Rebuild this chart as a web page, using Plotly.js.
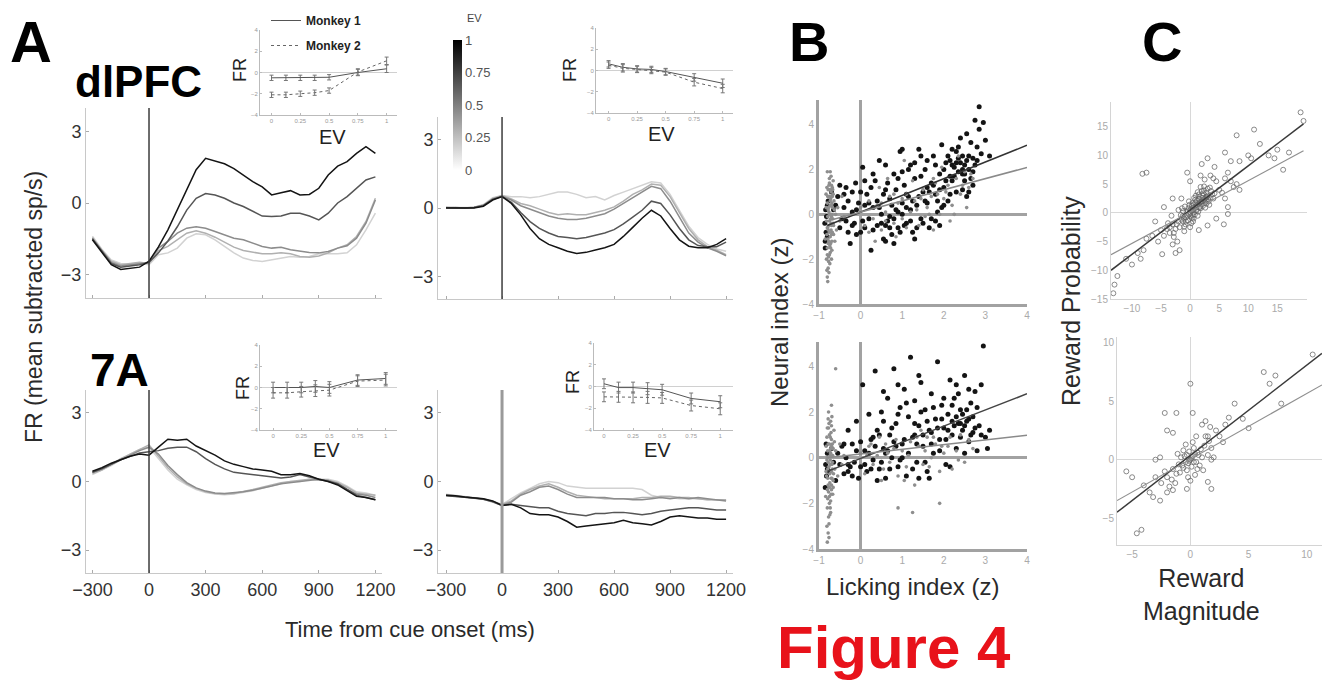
<!DOCTYPE html>
<html><head><meta charset="utf-8">
<script src="https://cdn.plot.ly/plotly-3.0.1.min.js"></script>
<style>html,body{margin:0;padding:0;background:#fff;}#g{width:1322px;height:684px;}</style>
</head><body><div id="g"></div>
<script>
// ---------- DATA ----------
const times = [-300,-250,-200,-150,-100,-50,0,50,100,150,200,250,300,350,400,450,500,550,600,650,700,750,800,850,900,950,1000,1050,1100,1150,1200];
const evLevels = [0,0.25,0.5,0.75,1];
const timeTicks = [-300,0,300,600,900,1200];

// dlPFC, left (monkey 1) — one series per EV level
const tlEv0   = [-1.4,-1.95,-2.4,-2.55,-2.6,-2.55,-2.6,-2.18,-2.1,-1.9,-1.48,-1.3,-1.34,-1.55,-1.83,-2.1,-2.32,-2.42,-2.46,-2.4,-2.34,-2.25,-2.28,-2.25,-2.14,-2.14,-2.14,-2.1,-1.76,-1.13,-0.43];
const tlEv025 = [-1.45,-2.0,-2.45,-2.6,-2.55,-2.5,-2.55,-2.0,-1.83,-1.55,-1.27,-1.17,-1.27,-1.44,-1.66,-1.86,-2.0,-2.08,-2.14,-2.14,-2.1,-2.14,-2.25,-2.28,-2.23,-2.1,-1.9,-1.76,-1.41,-0.78,0.2];
const tlEv05  = [-1.5,-2.0,-2.5,-2.65,-2.6,-2.55,-2.5,-1.9,-1.62,-1.27,-1.06,-1.0,-1.06,-1.2,-1.35,-1.48,-1.55,-1.7,-1.83,-1.9,-1.86,-1.97,-2.04,-2.08,-2.1,-2.04,-1.9,-1.8,-1.48,-0.85,0.13];
const tlEv075 = [-1.5,-2.05,-2.55,-2.7,-2.65,-2.6,-2.5,-2.1,-1.6,-1.0,-0.3,0.2,0.4,0.34,0.2,0.0,-0.15,-0.36,-0.55,-0.57,-0.55,-0.43,-0.43,-0.55,-0.71,-0.43,0.0,0.27,0.62,0.97,1.1];
const tlEv1   = [-1.55,-2.1,-2.6,-2.8,-2.75,-2.7,-2.45,-1.85,-1.13,-0.3,0.55,1.4,1.88,1.75,1.65,1.45,1.18,0.9,0.68,0.34,0.43,0.52,0.34,0.36,0.62,1.18,1.55,1.74,2.09,2.37,2.09];

// dlPFC, right (monkey 2)
const trEv0   = [0.02,0.02,0.0,0.03,0.15,0.45,0.55,0.5,0.5,0.45,0.5,0.6,0.7,0.7,0.6,0.45,0.5,0.35,0.55,0.7,0.85,1.0,1.15,1.1,0.6,-0.1,-0.8,-1.3,-1.6,-1.8,-1.9];
const trEv025 = [0.0,0.0,0.02,0.02,0.12,0.42,0.55,0.4,0.2,0.1,-0.05,-0.2,-0.3,-0.25,-0.3,-0.3,-0.2,-0.1,0.05,0.3,0.6,0.8,1.05,1.0,0.5,-0.2,-0.9,-1.4,-1.7,-1.85,-2.05];
const trEv05  = [0.0,0.02,0.0,0.03,0.12,0.4,0.52,0.35,0.1,-0.05,-0.2,-0.35,-0.45,-0.5,-0.5,-0.45,-0.35,-0.25,-0.05,0.2,0.45,0.7,0.95,0.85,0.3,-0.4,-1.1,-1.5,-1.75,-1.9,-2.1];
const trEv075 = [0.02,0.0,0.0,0.02,0.1,0.38,0.5,0.25,-0.2,-0.6,-0.9,-1.1,-1.25,-1.3,-1.35,-1.3,-1.2,-1.1,-0.95,-0.7,-0.4,-0.1,0.3,0.2,-0.3,-0.9,-1.4,-1.65,-1.7,-1.7,-1.5];
const trEv1   = [0.0,0.0,-0.03,0.0,0.08,0.35,0.5,0.2,-0.3,-0.9,-1.35,-1.6,-1.75,-1.9,-2.0,-1.95,-1.85,-1.75,-1.6,-1.25,-0.85,-0.45,-0.1,-0.35,-0.9,-1.4,-1.68,-1.75,-1.75,-1.6,-1.35];

// 7A, left (monkey 1)
const blEv0   = [0.3,0.5,0.7,0.95,1.2,1.4,1.5,1.0,0.5,0.1,-0.15,-0.35,-0.48,-0.55,-0.58,-0.55,-0.48,-0.4,-0.3,-0.2,-0.1,0.0,0.0,0.1,0.1,0.1,0.0,-0.2,-0.45,-0.5,-0.6];
const blEv025 = [0.35,0.5,0.75,1.0,1.2,1.4,1.6,1.1,0.6,0.2,-0.1,-0.3,-0.45,-0.52,-0.55,-0.52,-0.45,-0.35,-0.25,-0.15,-0.05,0.0,0.05,0.1,0.05,0.05,-0.05,-0.25,-0.5,-0.55,-0.6];
const blEv05  = [0.4,0.55,0.75,0.95,1.15,1.35,1.5,1.2,0.7,0.3,-0.05,-0.28,-0.42,-0.5,-0.52,-0.5,-0.45,-0.38,-0.3,-0.2,-0.1,-0.05,0.0,0.05,0.1,0.05,-0.1,-0.35,-0.55,-0.6,-0.7];
const blEv075 = [0.4,0.55,0.75,0.95,1.1,1.25,1.3,1.35,1.45,1.5,1.5,1.3,1.0,0.75,0.55,0.4,0.35,0.3,0.25,0.2,0.15,0.2,0.3,0.2,0.1,0.0,-0.1,-0.35,-0.6,-0.7,-0.8];
const blEv1   = [0.45,0.6,0.8,0.95,1.1,1.2,1.15,1.5,1.85,1.8,1.85,1.55,1.35,1.15,0.9,0.75,0.65,0.55,0.5,0.45,0.3,0.3,0.35,0.25,0.1,0.0,-0.15,-0.4,-0.65,-0.7,-0.8];

// 7A, right (monkey 2)
const brEv0   = [-0.56,-0.6,-0.65,-0.7,-0.75,-0.86,-1.0,-0.75,-0.5,-0.3,-0.1,0.0,-0.05,-0.2,-0.25,-0.3,-0.3,-0.3,-0.3,-0.3,-0.3,-0.35,-0.6,-0.7,-0.7,-0.75,-0.75,-0.75,-0.8,-0.8,-0.8];
const brEv025 = [-0.58,-0.62,-0.66,-0.7,-0.76,-0.88,-1.0,-0.85,-0.55,-0.35,-0.2,-0.1,-0.25,-0.45,-0.6,-0.65,-0.7,-0.75,-0.75,-0.75,-0.75,-0.7,-0.7,-0.65,-0.65,-0.7,-0.7,-0.75,-0.8,-0.8,-0.8];
const brEv05  = [-0.6,-0.64,-0.68,-0.72,-0.78,-0.9,-1.05,-0.9,-0.6,-0.45,-0.25,-0.2,-0.35,-0.55,-0.7,-0.7,-0.7,-0.7,-0.75,-0.75,-0.8,-0.8,-0.75,-0.7,-0.75,-0.7,-0.75,-0.7,-0.75,-0.8,-0.85];
const brEv075 = [-0.62,-0.65,-0.7,-0.72,-0.78,-0.88,-1.05,-1.0,-1.05,-1.1,-1.15,-1.15,-1.3,-1.4,-1.45,-1.5,-1.4,-1.4,-1.35,-1.35,-1.4,-1.45,-1.4,-1.3,-1.25,-1.2,-1.15,-1.15,-1.2,-1.25,-1.25];
const brEv1   = [-0.6,-0.62,-0.68,-0.7,-0.75,-0.85,-1.05,-1.0,-1.15,-1.4,-1.45,-1.45,-1.55,-1.75,-2.0,-1.95,-1.9,-1.85,-1.8,-1.7,-1.8,-1.85,-1.9,-1.75,-1.55,-1.5,-1.55,-1.6,-1.6,-1.65,-1.65];

// Insets: FR vs EV, two monkeys
const evPoints = [0,0.125,0.25,0.375,0.5,0.75,1];
const evTicks = [0,0.25,0.5,0.75,1];
const evTickText = ['0','0.25','0.5','0.75','1'];
const frTicks = [-4,-2,0,2,4];
const tlM1 = [-0.5,-0.5,-0.5,-0.5,-0.45,0.0,0.35];
const tlM2 = [-2.1,-2.1,-2.0,-1.9,-1.7,0.05,1.1];
const tlErr = [0.25,0.25,0.25,0.25,0.25,0.3,0.35];
const trM1 = [0.63,0.3,0.15,0.1,-0.1,-0.65,-1.2];
const trM2 = [0.5,0.2,0.1,0.0,-0.15,-1.1,-1.7];
const trErr = [0.3,0.35,0.3,0.3,0.3,0.35,0.4];
const blM1 = [0.0,0.0,0.0,0.1,0.0,0.7,0.85];
const blM2 = [-0.5,-0.5,-0.4,-0.3,-0.25,0.6,0.7];
const blErr = [0.5,0.5,0.5,0.55,0.55,0.5,0.55];
const brM1 = [0.25,-0.1,-0.1,-0.2,-0.3,-1.1,-1.4];
const brM2 = [-0.95,-0.95,-1.0,-1.0,-1.05,-1.75,-2.05];
const brErr = [0.45,0.5,0.5,0.55,0.5,0.5,0.55];

// B: neural index vs licking index  [licking, neural]
const bTopBlack = [[-0.85,-1.5],[-0.85,-1.2],[-0.83,-0.8],[-0.86,-0.4],[-0.84,0.2],[-0.8,-1.0],[-0.78,0.6],[-0.7,1.0],[-0.6,0.4],[-0.55,0.8],[-0.5,1.3],[-0.45,-0.2],[-0.4,0.3],[-0.35,1.2],[-0.3,-0.8],[-0.3,0.6],[-0.25,-1.3],[-0.2,0.1],[-0.15,-0.4],[-0.12,1.4],[-0.1,-0.9],[-0.05,0.5],[0.05,2.1],[0.1,-0.6],[0.15,0.9],[0.2,-0.2],[0.25,-1.6],[0.3,0.3],[0.35,1.5],[0.4,-0.5],[0.45,2.4],[0.5,0.0],[0.55,-1.1],[0.6,1.1],[0.65,-0.3],[0.7,0.7],[0.75,-0.9],[0.8,1.8],[0.85,0.2],[0.9,-0.6],[0.95,2.8],[1.0,0.0],[1.05,1.3],[1.1,-0.4],[1.15,0.8],[1.2,2.2],[1.25,-0.8],[1.3,1.6],[1.35,0.4],[1.4,2.9],[1.45,-0.2],[1.5,1.0],[1.55,2.0],[1.6,0.5],[1.65,-0.6],[1.7,1.4],[1.75,2.6],[1.8,0.9],[1.85,0.1],[1.9,1.8],[1.95,3.1],[2.0,1.2],[2.05,2.3],[2.1,0.6],[2.15,1.7],[2.2,2.9],[2.25,2.1],[2.3,1.0],[2.35,2.5],[2.4,3.4],[2.45,1.8],[2.5,2.2],[2.55,0.8],[2.6,2.6],[2.65,3.2],[2.7,1.9],[2.75,4.2],[2.8,2.4],[2.85,3.8],[2.9,2.7],[2.95,4.1],[3.0,3.3],[2.85,4.8],[3.1,2.6],[0.0,-0.8],[0.6,-1.2],[1.2,0.2],[0.3,1.8],[1.8,-0.3],[2.2,1.5],[2.45,2.0],[2.3,2.3],[1.0,0.5],[1.3,-1.1],[0.9,1.6],[0.4,0.6],[0.7,-0.1],[1.1,0.9],[1.6,1.2],[2.0,0.4],[2.5,1.5],[-0.2,-0.5],[0.1,0.4],
  [-0.82,-0.1],[-0.8,0.4],[-0.65,0.2],[-0.5,-0.6],[-0.4,0.9],[-0.35,-0.3],[-0.2,1.0],[-0.1,0.2],[0.0,1.0],[0.05,-0.3],[0.2,0.5],[0.25,1.2],[0.3,-0.7],[0.45,0.3],[0.5,-0.4],[0.55,0.9],[0.6,-0.5],[0.65,1.4],[0.7,-0.6],[0.75,0.4],[0.8,-0.2],[0.85,1.1],[0.9,0.1],[0.95,-0.8],[1.0,1.9],[1.05,-0.5],[1.1,0.3],[1.15,2.0],[1.2,-0.3],[1.25,0.6],[1.3,2.3],[1.35,-0.6],[1.4,0.8],[1.45,1.7],[1.5,-0.4],[1.55,0.6],[1.6,2.4],[1.65,1.0],[1.7,-0.2],[1.75,1.3],[1.8,2.2],[1.85,0.6],[1.9,1.1],[1.95,0.3],[2.0,2.0],[2.05,1.5],[2.1,2.6],[2.15,0.9],[2.2,2.2],[2.25,1.7],[2.3,2.8],[2.35,1.9],[2.4,2.3],[2.45,2.6],[2.5,1.8],[2.55,2.4],[2.6,2.0],[2.65,1.6],[2.7,2.5],[2.75,2.2],[2.8,3.0],[2.55,3.6],[2.35,3.0],[2.15,2.4],[1.45,2.6],[1.0,2.9],[0.6,2.2],[0.1,1.5],[0.8,-1.3],[1.9,-0.5],[2.45,1.1],[2.6,1.0],[2.7,1.3]];
const bTopGray = [[-0.8,-2.8],[-0.78,-2.4],[-0.82,-2.0],[-0.75,-1.8],[-0.8,-1.5],[-0.72,-1.3],[-0.85,-1.1],[-0.7,-0.9],[-0.78,-0.7],[-0.65,-0.5],[-0.82,-0.3],[-0.7,-0.1],[-0.76,0.1],[-0.68,0.3],[-0.8,0.5],[-0.72,0.7],[-0.66,0.9],[-0.78,1.1],[-0.7,1.3],[-0.75,1.6],[-0.8,1.9],[-0.62,-1.2],[-0.6,0.0],[-0.64,0.6],[-0.74,-2.2],[-0.83,0.9],[-0.77,-0.5],[-0.69,-1.6],[-0.73,0.4],[-0.67,-0.2],[-0.81,-0.9],[-0.71,1.0],[-0.79,-3.0],[-0.76,-2.6],[-0.66,1.5],[-0.74,-1.4],[-0.79,-0.6],[-0.71,-0.4],[-0.77,0.3],[-0.69,0.5],[-0.75,0.8],[-0.68,1.2],[-0.73,-1.0],[-0.8,-1.8],[-0.7,-2.0],[-0.76,1.3],[-0.72,-0.2],[-0.78,-1.3],[-0.68,-0.8],[-0.74,0.0],
  [-0.81,-2.5],[-0.77,-1.9],[-0.73,-1.7],[-0.79,-1.1],[-0.71,-0.7],[-0.75,-0.3],[-0.69,0.0],[-0.83,0.3],[-0.73,0.6],[-0.79,0.8],[-0.67,1.1],[-0.75,1.4],[-0.71,1.7],[-0.77,-2.1],[-0.65,-0.9],[-0.63,0.2],[-0.81,1.2],[-0.69,-1.2],[-0.75,-0.8],[-0.73,1.9],[-0.79,-0.1],[-0.7,0.4],[-0.66,-0.4],[-0.72,-1.5],[-0.78,0.2],[-0.76,-1.2],[-0.68,0.8],[-0.74,1.1],[-0.8,-0.6],[-0.7,-0.5],
  [-0.58,-0.7],[-0.55,0.3],[-0.5,-0.3],[-0.45,0.8],[-0.4,-0.1],[0.0,0.3],[0.1,-0.5],[0.2,0.6],[0.3,-0.2],[0.4,0.4],[0.5,-0.7],[0.6,0.1],[0.7,0.8],[0.8,-0.4],[0.9,0.5],[1.0,-0.2],[1.1,0.9],[1.2,0.1],[1.3,0.6],[1.4,-0.5],[1.5,1.1],[1.6,0.3],[1.7,0.8],[1.8,1.4],[1.9,0.0],[2.0,0.7],[2.1,1.3],[2.2,0.4],[2.3,1.6],[2.4,0.9],[2.5,1.9],[2.6,1.2],[2.7,1.6],[1.25,1.5],[0.85,-1.0],[1.55,-0.1],[2.15,-0.3],[0.45,1.2],[1.95,2.1],[1.05,2.4],[0.35,-1.2],[1.75,-0.7],[2.35,2.6],[2.55,0.3],[0.65,1.6],
  [0.2,-0.8],[0.5,0.5],[0.8,0.9],[1.1,-0.6],[1.35,0.2],[1.65,0.0],[1.85,0.9],[2.05,1.0],[2.25,0.0],[2.45,1.3],[1.0,0.7],[0.6,-0.3],[1.45,0.7],[1.75,1.6],[2.65,1.8]];
const bTopFitX = [-0.8,4];
const bTopFitBlack = [-0.5,3.08];
const bTopFitGray = [-0.3,2.09];

const bBotBlack = [[-0.85,-1.3],[-0.82,-0.8],[-0.84,-0.3],[-0.8,0.2],[-0.75,-0.6],[-0.7,0.4],[-0.6,-1.0],[-0.5,-0.3],[-0.45,0.5],[-0.4,-0.7],[-0.35,0.0],[-0.3,1.2],[-0.25,-0.4],[-0.2,0.6],[-0.15,-0.2],[-0.1,1.6],[-0.05,-0.9],[0.05,3.2],[0.1,0.3],[0.15,-0.6],[0.2,1.9],[0.25,0.8],[0.3,-0.1],[0.35,3.8],[0.4,1.2],[0.45,-0.5],[0.5,2.0],[0.55,0.4],[0.6,-0.9],[0.65,2.6],[0.7,1.0],[0.75,0.0],[0.8,3.9],[0.85,1.5],[0.9,-0.4],[0.95,2.2],[1.0,0.6],[1.05,3.0],[1.1,-0.8],[1.15,1.8],[1.2,4.4],[1.25,0.9],[1.3,2.5],[1.35,-0.2],[1.4,1.4],[1.45,3.3],[1.5,0.5],[1.55,2.1],[1.6,-0.6],[1.65,1.2],[1.7,2.8],[1.75,0.2],[1.8,1.7],[1.85,4.2],[1.9,0.8],[1.95,2.3],[2.0,1.3],[2.05,-0.3],[2.1,1.9],[2.15,3.4],[2.2,1.0],[2.25,2.6],[2.3,0.4],[2.35,1.5],[2.4,2.1],[2.45,1.2],[2.5,3.6],[2.55,1.6],[2.6,0.7],[2.65,2.4],[2.7,1.1],[2.75,2.9],[2.8,0.3],[2.85,1.4],[2.9,3.2],[3.0,0.9],[3.05,0.4],[2.95,4.9],[1.0,0.0],[0.6,0.2],[1.4,-0.9],[2.2,1.6],[0.3,0.9],[1.7,0.6],[2.4,1.5],[0.0,-0.4],[-0.3,-0.6],[0.8,0.7],[1.3,1.0],
  [-0.83,0.6],[-0.8,-0.5],[-0.65,-0.2],[-0.55,0.2],[-0.4,0.6],[-0.3,-0.3],[-0.2,-0.8],[-0.1,0.3],[0.0,0.7],[0.1,-0.3],[0.2,0.2],[0.25,-0.5],[0.35,0.5],[0.45,1.0],[0.5,-0.2],[0.55,1.6],[0.65,0.3],[0.7,-0.5],[0.75,1.3],[0.85,0.5],[0.9,1.9],[0.95,-0.1],[1.05,0.8],[1.1,2.4],[1.15,0.2],[1.25,-0.5],[1.3,1.5],[1.35,0.6],[1.45,2.0],[1.5,1.0],[1.55,-0.2],[1.6,1.6],[1.7,1.1],[1.75,2.2],[1.85,1.3],[1.9,0.3],[1.95,1.7],[2.0,2.6],[2.05,0.8],[2.1,1.2],[2.2,2.3],[2.25,1.4],[2.3,1.8],[2.35,2.8],[2.4,0.9],[2.45,1.9],[2.5,1.4],[2.55,2.1],[2.6,1.7],[2.65,1.0],[2.7,1.8],[2.75,1.3],[2.8,2.2],[2.9,1.0],[3.1,1.2],[2.6,3.0],[2.3,3.2],[1.4,3.6],[0.9,3.2],[0.55,2.9],[1.65,-0.9],[2.15,-0.4],[0.4,-1.0],[2.5,0.2]];
const bBotGray = [[-0.8,-3.7],[-0.78,-3.3],[-0.76,-2.9],[-0.74,-2.5],[-0.8,-2.2],[-0.72,-1.9],[-0.84,-1.7],[-0.7,-1.4],[-0.78,-1.2],[-0.66,-1.0],[-0.82,-0.8],[-0.7,-0.6],[-0.76,-0.4],[-0.68,-0.2],[-0.8,0.0],[-0.72,0.2],[-0.66,0.4],[-0.78,0.6],[-0.7,0.8],[-0.75,1.0],[-0.8,1.3],[-0.72,1.6],[-0.77,2.0],[-0.7,2.3],[-0.62,-0.5],[-0.6,0.3],[-0.64,1.2],[-0.74,-1.1],[-0.83,0.5],[-0.69,-0.3],[-0.73,0.9],[-0.67,-1.6],[-0.81,-0.1],[-0.75,-2.0],[-0.71,-0.9],[-0.79,-0.5],[-0.73,0.1],[-0.68,0.6],[-0.76,1.5],[-0.7,-1.2],[-0.78,-0.2],[-0.72,0.4],[-0.74,-0.7],[-0.77,-1.5],
  [-0.81,-3.0],[-0.77,-2.6],[-0.73,-2.2],[-0.79,-1.8],[-0.71,-1.6],[-0.75,-1.3],[-0.69,-0.9],[-0.83,-0.6],[-0.73,-0.3],[-0.79,0.3],[-0.67,0.1],[-0.75,0.6],[-0.71,1.1],[-0.77,1.3],[-0.65,-0.7],[-0.63,0.7],[-0.81,0.9],[-0.69,1.8],[-0.75,-1.7],[-0.73,-0.1],[-0.79,-0.9],[-0.7,0.5],[-0.66,-1.3],[-0.72,-2.4],[-0.78,1.7],[-0.76,-3.5],[-0.68,-0.5],[-0.74,0.3],[-0.8,-1.4],[-0.7,1.4],
  [-0.6,3.9],[-0.55,-0.8],[-0.5,0.6],[-0.45,-0.3],[-0.4,0.1],[0.0,0.2],[0.1,-0.7],[0.2,0.5],[0.3,-0.3],[0.4,0.1],[0.5,-1.0],[0.6,0.6],[0.7,-0.2],[0.8,0.4],[0.9,-0.8],[1.0,0.3],[1.1,-0.4],[1.2,0.7],[1.3,-1.2],[1.4,0.5],[1.5,-0.3],[1.6,0.9],[1.7,0.0],[1.8,0.6],[1.9,-0.6],[2.0,0.2],[2.1,0.5],[2.2,-0.5],[2.3,0.3],[2.5,-0.2],[2.7,0.4],[0.9,-2.2],[1.25,-2.4],[1.9,-2.0],[0.45,0.9],[1.45,1.2],[2.4,1.0],
  [0.25,0.6],[0.55,-0.5],[0.85,0.8],[1.15,0.1],[1.35,0.9],[1.55,0.3],[1.75,0.9],[1.95,0.5],[2.15,0.9],[2.35,-0.1],[1.05,-1.0],[0.65,0.2],[1.65,-0.4],[2.6,0.8],[0.15,0.1]];
const bBotFitX = [-0.8,4];
const bBotFitBlack = [-0.6,2.8];
const bBotFitGray = [0.0,0.98];

// C: reward probability vs reward magnitude  [magnitude, probability]
const cTop = [[0,0],[0.5,0.5],[1,1],[1.5,1.5],[2,2],[2.5,2.5],[3,3],[-0.5,-0.5],[-1,-1],[-1.5,-1.2],[0.3,1.2],[0.8,-0.3],[1.2,2.2],[1.8,0.8],[2.3,3.4],[2.8,1.6],[-0.3,0.8],[0.6,-1.0],[1.4,0.2],[2.0,3.8],[3.2,2.0],[-0.8,-2.0],[-1.2,0.3],[0.2,-1.8],[1.0,3.0],[2.6,0.9],[3.5,2.6],[-2.0,-1.5],[-1.8,-2.5],[-0.2,2.0],[0.9,1.8],[1.6,2.8],[2.2,1.2],[3.0,4.2],[-0.6,0.2],[0.4,-0.4],[1.1,0.4],[1.9,1.9],[2.7,2.2],[3.8,3.2],[-2.5,-2.8],[-3.0,-2.0],[-1.0,-3.2],[0.0,-2.5],[0.7,2.6],[1.3,3.6],[2.4,4.6],[3.3,1.4],[4.0,2.5],[-0.9,1.1],[0.1,0.6],[0.6,1.4],[1.7,1.1],[2.1,2.6],[-0.4,-1.3],[-1.3,-0.6],[0.3,-0.9],[1.5,2.4],[2.9,2.8],[-0.7,-1.5],
  [0.2,0.4],[0.7,0.9],[1.2,1.3],[1.7,1.8],[2.2,2.0],[2.7,2.7],[-0.2,-0.3],[-0.7,-0.8],[-1.2,-1.5],[0.4,1.7],[1.0,0.5],[1.6,0.9],[2.1,3.0],[2.6,1.8],[3.1,2.4],[-0.4,0.4],[0.1,-0.6],[0.9,2.3],[1.5,3.2],[2.4,3.9],[-1.6,-0.4],[-2.3,-2.0],[-1.0,-2.4],[0.5,-1.5],[3.6,3.8],[4.2,3.4],[-0.1,1.4],[0.6,0.1],[1.3,-0.5],[2.0,1.5],[2.8,3.5],[3.4,4.4],[-2.8,-3.5],[-3.5,-2.5],[-1.4,0.8],[1.8,4.5],
  [-3.5,-3.5],[-4.0,-2.8],[-4.5,-4.0],[-5.0,-3.0],[-3.8,-1.8],[-2.8,-4.2],[-6.0,-1.5],[-6.5,-4.0],[-7.5,-4.5],[-8.0,-6.5],[-9.0,-7.0],[-8.5,-8.0],[-10.0,-9.0],[-11.0,-8.0],[-12.5,-11.0],[-13.0,-12.5],[-13.2,-14.0],[-7.5,7.0],[-8.2,6.8],[-3.0,-5.5],[-2.5,-7.0],[-1.8,-6.5],[-2.2,-5.0],[-5.5,-5.0],[-4.8,-7.2],[-3.2,-0.5],[-1.5,2.5],[-0.5,7.0],[0.0,5.5],[1.8,6.5],[2.5,5.8],[3.5,6.5],[4.0,6.0],[4.5,5.5],[5.0,4.0],[5.5,3.5],[6.0,2.5],[6.5,1.0],[5.8,-2.0],[6.5,-0.2],[4.5,-1.0],[3.0,-2.2],[1.5,-3.0],[6.0,6.0],[6.5,7.0],[7.0,5.5],[7.5,4.5],[8.0,5.0],[8.5,4.0],[6.0,10.5],[7.0,9.0],[8.5,9.0],[10.0,10.0],[10.5,9.5],[12.0,12.0],[13.5,10.0],[14.5,9.5],[15.0,11.0],[16.0,7.5],[17.0,10.5],[19.0,17.5],[19.5,16.0],[8.0,13.5],[11.0,14.5],[3.0,9.5],[2.0,8.5],[4.2,8.0],[-3.0,2.5],[-4.5,1.0],[-2.0,0.5]];
const cTopFitX = [-13.6,19.5];
const cTopFitBlack = [-10.0,15.5];
const cTopFitGray = [-7.3,10.8];

const cBot = [[0,0],[0.2,0.3],[-0.2,-0.3],[0.4,0.5],[-0.4,-0.2],[0.1,-0.6],[-0.1,0.7],[0.5,-0.2],[-0.5,0.3],[0.3,1.0],[-0.3,-0.9],[0.7,0.4],[-0.7,-0.5],[0.6,-0.8],[-0.6,0.8],[0.9,0.9],[-0.9,-1.1],[0.8,-0.5],[-0.8,0.2],[1.0,0.2],[-1.0,-0.4],[0.2,1.5],[-0.2,-1.5],[1.2,1.2],[-1.2,-1.2],[1.1,-0.9],[-1.1,0.5],[0.4,-1.3],[-0.4,1.3],[1.5,0.4],[-1.5,-0.8],[1.6,1.6],[-1.6,-1.7],[1.3,2.0],[-1.3,-2.0],[0.0,-1.8],[-2.0,-1.5],[-1.8,-2.3],[-2.2,-1.0],[1.8,0.0],[2.0,0.2],[1.5,-1.9],[0.5,2.0],[0.1,0.1],[-0.1,-0.1],[0.3,-0.2],[-0.3,0.4],[0.6,0.6],[-0.6,-0.7],[-2.5,-2.0],[-3.0,-1.5],[-3.5,-2.8],[-4.0,-2.2],[-3.2,-3.2],[-2.6,-3.5],[-1.5,-2.6],[-2.0,-2.8],[-5.5,-1.0],[-5.0,-1.5],[-4.2,-6.0],[-4.6,-6.3],[-2.2,4.0],[-1.2,4.0],[0.0,6.5],[0.2,4.0],[-2.0,2.5],[-1.5,2.3],[-3.0,0.0],[-2.6,0.2],[1.0,3.0],[1.3,3.3],[1.7,2.8],[2.2,2.5],[1.5,2.0],[2.5,2.0],[3.0,3.0],[3.3,3.6],[3.8,4.8],[4.5,3.5],[5.0,2.7],[6.3,7.5],[6.8,6.5],[7.3,7.2],[7.8,4.8],[1.8,1.0],[2.8,1.5],[10.5,9.0],[1.8,-2.5],[-0.3,-2.5]];
const cBotFitX = [-6.3,11.3];
const cBotFitBlack = [-4.5,9.1];
const cBotFitGray = [-3.5,6.4];

// ---------- BUILD ----------
const W = 1322, H = 684;
const F = '"Liberation Sans", Arial, Helvetica, sans-serif';
const dx = (a,b) => [a/W, b/W];
const dy = (top,bottom) => [1-bottom/H, 1-top/H];
const evColors = ['#d2d2d2','#b0b0b0','#8c8c8c','#555555','#141414'];

const traces = [];
function addPanel(series, xa, ya) {
  series.forEach((s,i) => traces.push({x: times, y: s, xaxis: xa, yaxis: ya, mode: 'lines',
    line: {color: evColors[i], width: 1.5}, showlegend: false, hoverinfo: 'skip'}));
}
addPanel([tlEv0,tlEv025,tlEv05,tlEv075,tlEv1], 'x', 'y');
addPanel([trEv0,trEv025,trEv05,trEv075,trEv1], 'x2', 'y2');
addPanel([blEv0,blEv025,blEv05,blEv075,blEv1], 'x3', 'y3');
addPanel([brEv0,brEv025,brEv05,brEv075,brEv1], 'x4', 'y4');

function addInset(m1, m2, err, xa, ya, legend) {
  traces.push({x: evPoints, y: m1, xaxis: xa, yaxis: ya, mode: 'lines', name: 'Monkey 1', legendgroup: 'm1',
    showlegend: legend, line: {color: '#555', width: 1},
    error_y: {type: 'data', array: err, color: '#777', thickness: 1, width: 2}, hoverinfo: 'skip'});
  traces.push({x: evPoints, y: m2, xaxis: xa, yaxis: ya, mode: 'lines', name: 'Monkey 2', legendgroup: 'm2',
    showlegend: legend, line: {color: '#666', width: 1, dash: 'dot'},
    error_y: {type: 'data', array: err, color: '#777', thickness: 1, width: 2}, hoverinfo: 'skip'});
}
addInset(tlM1, tlM2, tlErr, 'x5', 'y5', true);
addInset(trM1, trM2, trErr, 'x6', 'y6', false);
addInset(blM1, blM2, blErr, 'x7', 'y7', false);
addInset(brM1, brM2, brErr, 'x8', 'y8', false);

function addScatter(pts, xa, ya, marker) {
  traces.push({x: pts.map(p=>p[0]), y: pts.map(p=>p[1]), xaxis: xa, yaxis: ya, mode: 'markers',
    marker: marker, showlegend: false, hoverinfo: 'skip', cliponaxis: false});
}
function addFit(xs, ys, xa, ya, color, width) {
  traces.push({x: xs, y: ys, xaxis: xa, yaxis: ya, mode: 'lines', line: {color: color, width: width},
    showlegend: false, hoverinfo: 'skip'});
}
const blackDot = {size: 5, color: '#141414'};
const grayDot = {size: 3.6, color: '#8e8e8e'};
addScatter(bTopBlack, 'x9', 'y9', blackDot);
addScatter(bTopGray, 'x9', 'y9', grayDot);
addFit(bTopFitX, bTopFitBlack, 'x9', 'y9', '#333', 1.5);
addFit(bTopFitX, bTopFitGray, 'x9', 'y9', '#8a8a8a', 1.5);
addScatter(bBotBlack, 'x10', 'y10', blackDot);
addScatter(bBotGray, 'x10', 'y10', grayDot);
addFit(bBotFitX, bBotFitBlack, 'x10', 'y10', '#444', 1.5);
addFit(bBotFitX, bBotFitGray, 'x10', 'y10', '#8a8a8a', 1.5);

const openDot = {symbol: 'circle-open', size: 5, color: 'rgba(100,100,100,0.75)', line: {width: 1}};
addScatter(cTop, 'x11', 'y11', openDot);
addFit(cTopFitX, cTopFitBlack, 'x11', 'y11', '#3a3a3a', 1.5);
addFit(cTopFitX, cTopFitGray, 'x11', 'y11', '#8f8f8f', 1.2);
addScatter(cBot, 'x12', 'y12', openDot);
addFit(cBotFitX, cBotFitBlack, 'x12', 'y12', '#3a3a3a', 1.5);
addFit(cBotFitX, cBotFitGray, 'x12', 'y12', '#8f8f8f', 1.2);

// colour bar for EV
traces.push({type: 'heatmap', z: [evLevels], xaxis: 'x13', yaxis: 'y13', zmin: 0, zmax: 1,
  colorscale: [[0,'#ffffff'],[1,'#000000']], opacity: 0, hoverinfo: 'skip', showscale: true,
  colorbar: {x: 453/W, xanchor: 'left', y: 1-40/H, yanchor: 'top', len: 130, lenmode: 'pixels',
    thickness: 9, thicknessmode: 'pixels', outlinewidth: 0, xpad: 0, ypad: 0,
    tickvals: evTicks, ticktext: evTickText, ticks: '', tickfont: {size: 13, color: '#555', family: F}}});

const mainAx = {showline: true, linecolor: '#c8c8c8', linewidth: 1, ticks: 'inside', ticklen: 3,
  tickcolor: '#aaa', zeroline: false, showgrid: false, tickfont: {size: 18, color: '#333', family: F}};
const insetAx = {showline: true, linecolor: '#bbb', linewidth: 1, ticks: 'inside', ticklen: 2,
  tickcolor: '#bbb', showgrid: false, tickfont: {size: 6, color: '#999', family: F}};
const bAx = {showline: true, linecolor: '#a2a2a2', linewidth: 3, ticks: '', showgrid: false,
  zeroline: true, zerolinecolor: '#a2a2a2', zerolinewidth: 3, tickfont: {size: 10, color: '#aaa', family: F}};
const cAx = {showline: true, linecolor: '#d4d4d4', linewidth: 1, ticks: '', showgrid: false,
  zeroline: true, zerolinecolor: '#d8d8d8', zerolinewidth: 1, tickfont: {size: 10, color: '#aaa', family: F}};

const layout = {
  width: W, height: H, margin: {l: 0, r: 0, t: 0, b: 0}, paper_bgcolor: '#fff', plot_bgcolor: 'rgba(0,0,0,0)',
  font: {family: F, color: '#222'},
  showlegend: true,
  legend: {x: 266/W, y: 1-6/H, xanchor: 'left', yanchor: 'top', bgcolor: 'rgba(0,0,0,0)',
    font: {size: 12, family: F, color: '#222', weight: 'bold'}, tracegroupgap: 6, itemwidth: 30},
  xaxis:  Object.assign({}, mainAx, {domain: dx(86,382), range: [-334,1235], tickvals: timeTicks, showticklabels: false, anchor: 'y'}),
  yaxis:  Object.assign({}, mainAx, {domain: dy(108,298), range: [-4,4], tickvals: [-3,0,3], anchor: 'x'}),
  xaxis2: Object.assign({}, mainAx, {domain: dx(438,733), range: [-343,1237], tickvals: timeTicks, showticklabels: false, anchor: 'y2'}),
  yaxis2: Object.assign({}, mainAx, {domain: dy(117,299), range: [-4,4], tickvals: [-3,0,3], anchor: 'x2'}),
  xaxis3: Object.assign({}, mainAx, {domain: dx(86,382), range: [-334,1235], tickvals: timeTicks, anchor: 'y3'}),
  yaxis3: Object.assign({}, mainAx, {domain: dy(390,573), range: [-4,4], tickvals: [-3,0,3], anchor: 'x3'}),
  xaxis4: Object.assign({}, mainAx, {domain: dx(438,733), range: [-343,1237], tickvals: timeTicks, anchor: 'y4'}),
  yaxis4: Object.assign({}, mainAx, {domain: dy(390,573), range: [-4,4], tickvals: [-3,0,3], anchor: 'x4'}),

  xaxis5: Object.assign({}, insetAx, {domain: dx(260,397), range: [-0.1,1.09], tickvals: evTicks, ticktext: evTickText, zeroline: false, anchor: 'y5'}),
  yaxis5: Object.assign({}, insetAx, {domain: dy(30,115), range: [-4,4], tickvals: frTicks, zeroline: true, zerolinecolor: '#d0d0d0', zerolinewidth: 1, anchor: 'x5'}),
  xaxis6: Object.assign({}, insetAx, {domain: dx(596,733), range: [-0.11,1.09], tickvals: evTicks, ticktext: evTickText, zeroline: false, anchor: 'y6'}),
  yaxis6: Object.assign({}, insetAx, {domain: dy(28,113), range: [-4,4], tickvals: frTicks, zeroline: true, zerolinecolor: '#d0d0d0', zerolinewidth: 1, anchor: 'x6'}),
  xaxis7: Object.assign({}, insetAx, {domain: dx(260,397), range: [-0.116,1.1], tickvals: evTicks, ticktext: evTickText, zeroline: false, anchor: 'y7'}),
  yaxis7: Object.assign({}, insetAx, {domain: dy(345,430), range: [-4,4], tickvals: frTicks, zeroline: true, zerolinecolor: '#d0d0d0', zerolinewidth: 1, anchor: 'x7'}),
  xaxis8: Object.assign({}, insetAx, {domain: dx(594,733), range: [-0.086,1.11], tickvals: evTicks, ticktext: evTickText, zeroline: false, anchor: 'y8'}),
  yaxis8: Object.assign({}, insetAx, {domain: dy(343,430), range: [-4,4], tickvals: frTicks, zeroline: true, zerolinecolor: '#d0d0d0', zerolinewidth: 1, anchor: 'x8'}),

  xaxis9:  Object.assign({}, bAx, {domain: dx(819,1027), range: [-1,4], tickvals: [-1,0,1,2,3,4], anchor: 'y9'}),
  yaxis9:  Object.assign({}, bAx, {domain: dy(100,304), range: [-4,5.1], tickvals: [-4,-2,0,2,4], anchor: 'x9'}),
  xaxis10: Object.assign({}, bAx, {domain: dx(819,1027), range: [-1,4], tickvals: [-1,0,1,2,3,4], anchor: 'y10'}),
  yaxis10: Object.assign({}, bAx, {domain: dy(342,549), range: [-4,5.07], tickvals: [-4,-2,0,2,4], anchor: 'x10'}),

  xaxis11: Object.assign({}, cAx, {domain: dx(1111,1307), range: [-13.6,20.1], tickvals: [-10,-5,0,5,10,15], anchor: 'y11'}),
  yaxis11: Object.assign({}, cAx, {domain: dy(102,299), range: [-15,19.3], tickvals: [-15,-10,-5,0,5,10,15], anchor: 'x11'}),
  xaxis12: Object.assign({}, cAx, {domain: dx(1117,1322), range: [-6.3,11.3], tickvals: [-5,0,5,10], anchor: 'y12'}),
  yaxis12: Object.assign({}, cAx, {domain: dy(337,545), range: [-7.3,10.5], tickvals: [-5,0,5,10], anchor: 'x12'}),

  xaxis13: {domain: [0,0.001], visible: false, anchor: 'y13'},
  yaxis13: {domain: [0,0.001], visible: false, anchor: 'x13'},

  shapes: [
    {type: 'line', xref: 'x',  yref: 'y domain',  x0: 0, x1: 0, y0: 0, y1: 1, line: {color: '#3c3c3c', width: 1.5}},
    {type: 'line', xref: 'x2', yref: 'y2 domain', x0: 0, x1: 0, y0: 0, y1: 1, line: {color: '#3c3c3c', width: 1.5}},
    {type: 'line', xref: 'x3', yref: 'y3 domain', x0: 0, x1: 0, y0: 0, y1: 1, line: {color: '#3c3c3c', width: 1.5}},
    {type: 'line', xref: 'x4', yref: 'y4 domain', x0: 0, x1: 0, y0: 0, y1: 1, line: {color: '#9a9a9a', width: 3}}
  ],
  annotations: []
};

function ann(text, px, py, size, opts) {
  layout.annotations.push(Object.assign({text: text, xref: 'paper', yref: 'paper', x: px/W, y: 1-py/H,
    xanchor: 'center', yanchor: 'middle', showarrow: false, font: {size: size, family: F, color: '#111'}}, opts || {}));
}
function bAnn(text, px, py, size, color) {
  ann(text, px, py, size, {font: {size: size, family: F, color: color || '#000', weight: 'bold'}});
}
bAnn('A', 31, 42, 58);
bAnn('dlPFC', 138, 81, 44);
bAnn('7A', 119, 370, 46);
bAnn('B', 809, 42, 56);
bAnn('C', 1162, 42, 56);
ann('Figure 4', 894, 683, 60, {yanchor: 'bottom', font: {size: 60, family: F, color: '#e8121a', weight: 'bold'}});

ann('FR (mean subtracted sp/s)', 34, 307, 23, {textangle: -90, font: {size: 23, family: F, color: '#2a2a2a'}});
ann('Time from cue onset (ms)', 410, 629, 22, {font: {size: 22, family: F, color: '#2a2a2a'}});
ann('Neural index (z)', 779, 323, 24, {textangle: -90, font: {size: 24, family: F, color: '#2a2a2a'}});
ann('Licking index (z)', 912, 586, 24, {font: {size: 24, family: F, color: '#2a2a2a'}});
ann('Reward Probability', 1071, 301, 25, {textangle: -90, font: {size: 25, family: F, color: '#2a2a2a'}});
ann('Reward<br>Magnitude', 1201, 594, 25, {font: {size: 25, family: F, color: '#2a2a2a'}});

[[240,70],[570,70],[243,388],[573,382]].forEach(p => ann('FR', p[0], p[1], 18, {textangle: -90, font: {size: 18, family: F, color: '#222'}}));
[[332,137],[661,134],[326,450],[657,450]].forEach(p => ann('EV', p[0], p[1], 20, {font: {size: 20, family: F, color: '#222'}}));
ann('EV', 474, 18, 11, {font: {size: 11, family: F, color: '#444'}});

Plotly.newPlot('g', traces, layout, {displayModeBar: false, staticPlot: true});
</script>
</body></html>
